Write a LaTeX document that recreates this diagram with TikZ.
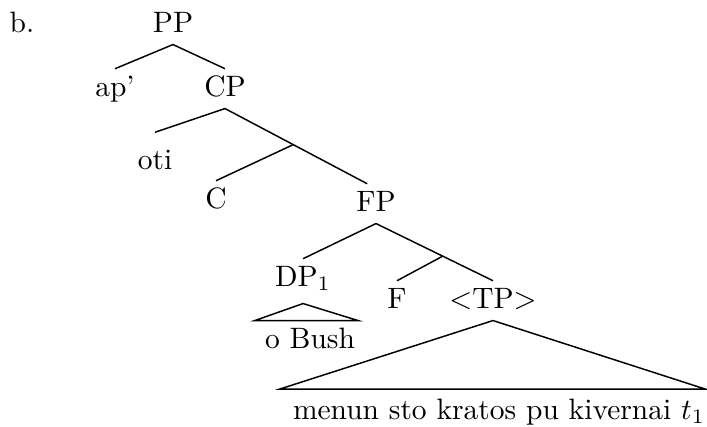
\documentclass[tikz,border=0pt]{standalone}
\begin{document}
\begin{tikzpicture}[x=0.339pt,y=-0.339pt,line width=0.5pt,
  cat/.style={anchor=base,inner xsep=1pt,inner ysep=2pt,text height=7pt,text depth=2pt}]
\useasboundingbox (0,0) rectangle (707,426);
\node[cat,anchor=base west] (b) at (6,32) {b.};
\node[cat] (PP) at (173,32) {PP};
\node[cat] (ap) at (115,96) {ap'};
\node[cat] (CP) at (225,96) {CP};
\node[cat] (oti) at (155,169) {oti};
\node[cat] (C) at (216,208) {C};
\node[cat] (FP) at (376,211) {FP};
\node[cat] (DP) at (303,286) {DP$_1$};
\node[cat] (F) at (397,308) {F};
\node[cat] (TP) at (493,308) {$<$TP$>$};
\node[cat] (obush) at (310,348) {o Bush};
\node[cat] (tpstr) at (499,419) {menun sto kratos pu kivernai $t_1$};
\draw (PP.south) -- (ap.north);
\draw (PP.south) -- (CP.north);
\draw (CP.south) -- ([yshift=3.2pt]oti.north);
\draw (CP.south) -- coordinate[pos=0.48] (j1) ([xshift=-3pt]FP.north);
\draw (j1) -- (C.north);
\draw (FP.south) -- (DP.north);
\draw (FP.south) -- coordinate[pos=0.57] (j2) (TP.north);
\draw (j2) -- (F.north);
\coordinate (dpL) at ([xshift=-2.4pt]obush.north west);
\coordinate (dpR) at (obush.north east);
\draw ([yshift=-1.7pt]DP.south) -- (dpL) -- (dpR) -- cycle;
\coordinate (tpL) at ([xshift=-3.4pt,yshift=0.85pt]tpstr.north west);
\coordinate (tpR) at ([xshift=-1pt,yshift=0.85pt]tpstr.north east);
\draw (TP.south) -- (tpL) -- (tpR) -- cycle;
\end{tikzpicture}
\end{document}
